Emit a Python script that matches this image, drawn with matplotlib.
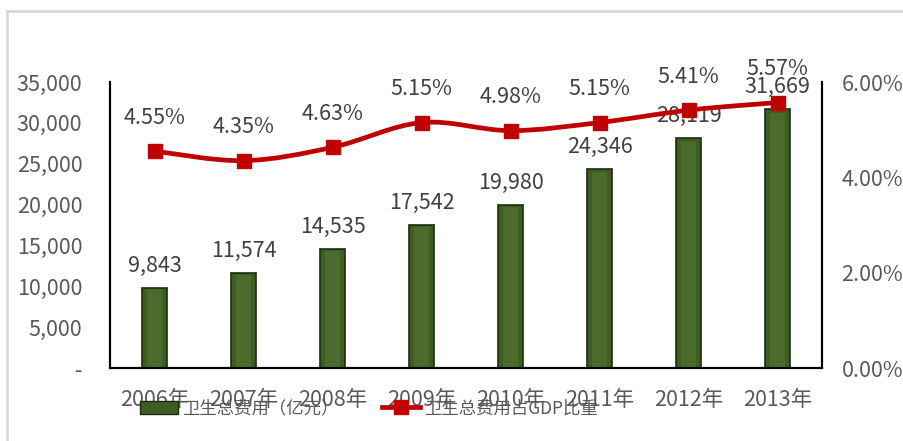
import numpy as np
import matplotlib.pyplot as plt
from matplotlib.path import Path
from matplotlib.patches import PathPatch
from matplotlib.lines import Line2D
from matplotlib.ticker import FuncFormatter

plt.rcParams['font.family'] = ['Noto Sans CJK SC', 'DejaVu Sans']

years = ['2006年', '2007年', '2008年', '2009年', '2010年', '2011年', '2012年', '2013年']
spend = [9843, 11574, 14535, 17542, 19980, 24346, 28119, 31669]      # 卫生总费用（亿元）
ratio = [4.55, 4.35, 4.63, 5.15, 4.98, 5.15, 5.41, 5.57]             # 占GDP比重 %

bar_c = '#3E5D22'
line_c = '#C00000'
txt_c = '#404040'
tick_c = '#595959'
fs = 15.5

fig = plt.figure(figsize=(9.04, 4.41), dpi=100)
ax = fig.add_axes([0.1217, 0.1655, 0.7876, 0.6485])
ax2 = ax.twinx()

x = np.arange(len(years))
ax.bar(x, spend, width=0.29, color=bar_c, edgecolor='#1C2B0E', linewidth=1.2, zorder=2)
# lighter inner face for the bevel look
ax.bar(x, np.array(spend) * 0.985, width=0.17, color='#4A6B2C', linewidth=0, zorder=3)

for xi, v in zip(x, spend):
    ax.annotate(f'{v:,}', (xi, v), xytext=(0, 8), textcoords='offset points',
                ha='center', va='bottom', fontsize=fs, color=txt_c, zorder=5)

ax.set_ylim(0, 35000)
ax.set_yticks(range(0, 35001, 5000))
ax.yaxis.set_major_formatter(FuncFormatter(lambda v, p: '-' if v == 0 else f'{v:,.0f}'))
ax.set_xlim(-0.5, len(years) - 0.5)
ax.set_xticks(x)
ax.set_xticklabels(years)
ax.tick_params(axis='x', length=0, pad=15, labelsize=fs, labelcolor=tick_c)
ax.tick_params(axis='y', length=0, pad=20, labelsize=fs, labelcolor=tick_c)

# smooth line (Excel-style smoothing) through the ratio points
pts = np.column_stack([x, ratio]).astype(float)
verts = [pts[0]]
codes = [Path.MOVETO]
for i in range(len(pts) - 1):
    p0 = pts[max(i - 1, 0)]
    p1 = pts[i]
    p2 = pts[i + 1]
    p3 = pts[min(i + 2, len(pts) - 1)]
    verts += [p1 + (p2 - p0) / 6, p2 - (p3 - p1) / 6, p2]
    codes += [Path.CURVE4] * 3
ax2.add_patch(PathPatch(Path(verts, codes), fill=False, edgecolor=line_c, lw=3.4, zorder=4))
ax2.plot(x, ratio, ls='none', marker='s', ms=10, color=line_c, zorder=5)

for xi, v in zip(x, ratio):
    ax2.annotate(f'{v:.2f}%', (xi, v), xytext=(0, 16), textcoords='offset points',
                 ha='center', va='bottom', fontsize=fs, color=txt_c, zorder=6)

ax2.set_ylim(0, 6)
ax2.set_yticks([0, 2, 4, 6])
ax2.yaxis.set_major_formatter(FuncFormatter(lambda v, p: f'{v:.2f}%'))
ax2.tick_params(axis='y', length=0, pad=14, labelsize=fs, labelcolor=tick_c)

for a in (ax, ax2):
    a.spines['top'].set_visible(False)
    for s in ('left', 'right', 'bottom'):
        a.spines[s].set_color('black')
        a.spines[s].set_linewidth(1.5)

# legend, sitting over the year labels like in the original
h1 = plt.Rectangle((0, 0), 1, 1, facecolor=bar_c, edgecolor='#1C2B0E')
h2 = Line2D([], [], color=line_c, lw=3.4, marker='s', ms=10)
fig.legend([h1, h2], ['卫生总费用（亿元）', '卫生总费用占GDP比重'], loc='center',
           bbox_to_anchor=(0.408, 0.074), ncol=2, frameon=False, fontsize=12.5,
           labelcolor=tick_c, handlelength=2.2, handleheight=0.8, columnspacing=2.5,
           handletextpad=0.25)

# light outer border of the chart area
fig.add_artist(Line2D([0.008, 0.008], [0, 0.975], transform=fig.transFigure, color='#D9D9D9', lw=2))
fig.add_artist(Line2D([0.008, 1], [0.975, 0.975], transform=fig.transFigure, color='#D9D9D9', lw=2))

fig.savefig('out.png', dpi=100)
